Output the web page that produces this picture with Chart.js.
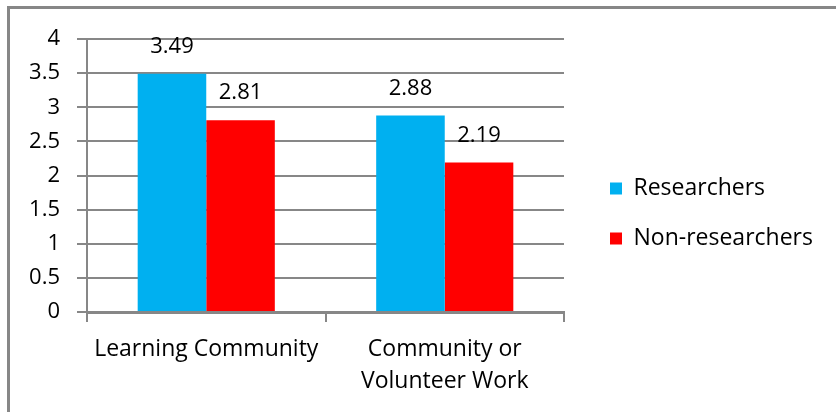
<!DOCTYPE html>
<html>
<head>
<meta charset="utf-8">
<script src="https://cdn.jsdelivr.net/npm/chart.js@4"></script>
<style>
  body { margin: 0; background: #fff; }
  .frame {
    position: absolute; left: 7px; top: 6px;
    width: 900px; height: 500px;
    border: 3px solid #878787;
  }
  .wrap { position: absolute; left: 0; top: 0; width: 836px; height: 412px; }
</style>
</head>
<body>
<div class="frame"></div>
<div class="wrap"><canvas id="myChart"></canvas></div>
<script>
const categories = ["Learning Community", ["Community or", "Volunteer Work"]];
const researchers = [3.49, 2.88];
const nonResearchers = [2.81, 2.19];
const seriesNames = ["Researchers", "Non-researchers"];
const yTicks = [0, 0.5, 1, 1.5, 2, 2.5, 3, 3.5, 4];

const FONT = "Open Sans";
const gridColor = "#878787";

// value labels above each bar
const barLabels = {
  id: "barLabels",
  afterDatasetsDraw(chart) {
    const ctx = chart.ctx;
    ctx.save();
    ctx.fillStyle = "#000";
    ctx.font = "22px '" + FONT + "'";
    ctx.textAlign = "center";
    ctx.textBaseline = "middle";
    chart.data.datasets.forEach((dataset, i) => {
      chart.getDatasetMeta(i).data.forEach((bar, j) => {
        ctx.fillText(dataset.data[j].toFixed(2), bar.x, bar.y - 27);
      });
    });
    ctx.restore();
  }
};

// push the legend a bit away from the plot
const legendShift = {
  id: "legendShift",
  beforeLayout(chart) {
    const legend = chart.legend;
    if (legend && !legend._patched) {
      const fit = legend.fit;
      legend.fit = function () {
        fit.call(this);
        this.width = 272;
      };
      legend._patched = true;
    }
  },
  afterLayout(chart) {
    const legend = chart.legend;
    legend.left += 19;
    legend.right += 19;
    legend.top -= 12;
    legend.bottom -= 12;
  }
};

new Chart(document.getElementById("myChart"), {
  type: "bar",
  data: {
    labels: categories,
    datasets: [
      { label: seriesNames[0], data: researchers, backgroundColor: "#00B0F0" },
      { label: seriesNames[1], data: nonResearchers, backgroundColor: "#FF0000" },
    ],
  },
  options: {
    responsive: true,
    maintainAspectRatio: false,
    animation: false,
    layout: { padding: { top: 39, left: 0, right: 0, bottom: 0 } },
    datasets: { bar: { categoryPercentage: 0.575, barPercentage: 1 } },
    plugins: {
      tooltip: { enabled: false },
      legend: {
        position: "right",
        labels: {
          boxWidth: 12,
          boxHeight: 12,
          padding: 27,
          color: "#000",
          font: { family: FONT, size: 23 },
        },
      },
    },
    scales: {
      x: {
        grid: { display: true, drawOnChartArea: false, offset: true, color: gridColor, lineWidth: 2, tickLength: 10 },
        border: { color: gridColor, width: 3 },
        ticks: { color: "#000", padding: 11, font: { family: FONT, size: 23, lineHeight: 1.4 }, maxRotation: 0 },
        afterFit(scale) { scale.height = 100; },
      },
      y: {
        min: 0,
        max: 4,
        afterBuildTicks(scale) { scale.ticks = yTicks.map(v => ({ value: v })); },
        grid: { color: gridColor, lineWidth: 2, tickLength: 10 },
        border: { color: gridColor, width: 2 },
        ticks: {
          color: "#000",
          padding: 17,
          font: { family: FONT, size: 22 },
          callback: (value) => String(value),
        },
        afterFit(scale) { scale.width = 87; },
      },
    },
  },
  plugins: [barLabels, legendShift],
});
</script>
</body>
</html>
